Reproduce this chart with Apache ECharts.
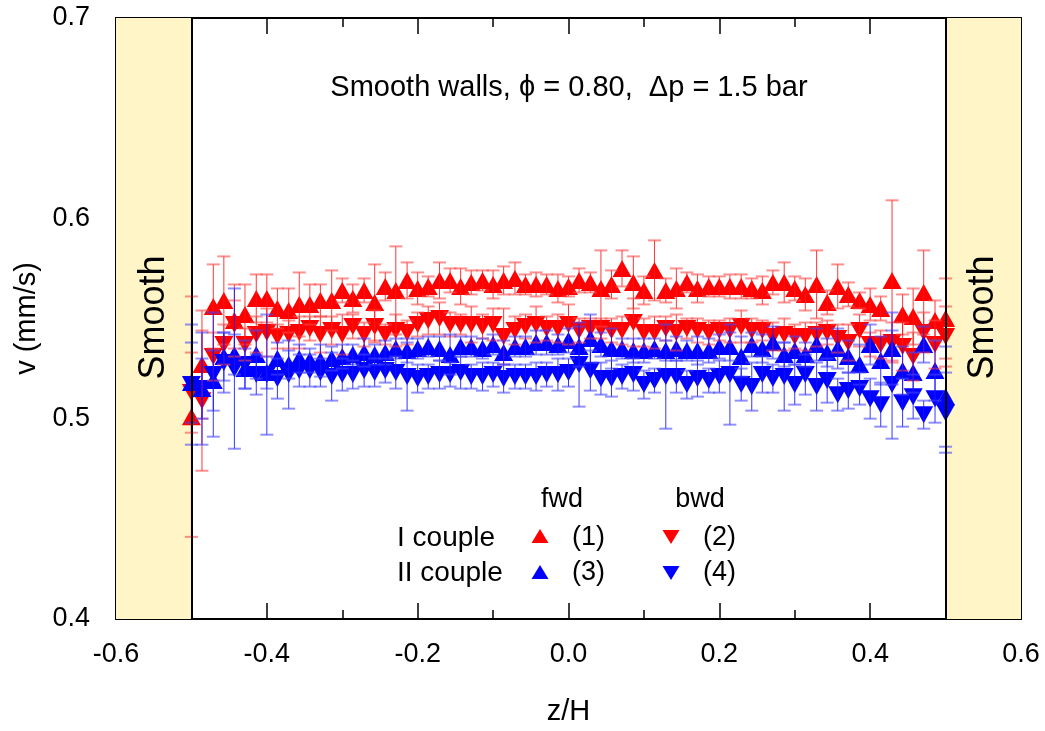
<!DOCTYPE html>
<html><head><meta charset="utf-8">
<script src="https://cdn.jsdelivr.net/npm/echarts@6/dist/echarts.min.js"></script>
<style>html,body{margin:0;padding:0;background:#fff}#c{width:1045px;height:731px}</style>
</head><body><div id="c"></div>
<script>
// z/H positions of the measurement points
const zH = [
 -0.500,-0.486,-0.471,-0.457,-0.443,-0.429,-0.414,-0.400,-0.386,-0.371,-0.357,
 -0.343,-0.329,-0.314,-0.300,-0.286,-0.271,-0.257,-0.243,-0.229,-0.214,-0.200,-0.186,-0.171,
 -0.157,-0.143,-0.129,-0.114,-0.100,-0.086,-0.071,-0.057,-0.043,-0.029,-0.014,0.000,
 0.014,0.029,0.043,0.057,0.071,0.086,0.100,0.114,0.129,0.143,0.157,0.171,
 0.186,0.200,0.214,0.229,0.243,0.257,0.271,0.286,0.300,0.314,0.329,0.343,
 0.357,0.371,0.386,0.400,0.414,0.429,0.443,0.457,0.471,0.486,0.500];

// (1) I couple fwd
const v1 = [
 0.501,0.527,0.556,0.559,0.549,0.552,0.560,0.560,0.555,0.554,0.557,
 0.557,0.559,0.559,0.564,0.560,0.564,0.558,0.566,0.564,0.569,0.565,0.566,0.569,
 0.569,0.566,0.568,0.569,0.567,0.569,0.570,0.567,0.567,0.567,0.565,0.566,
 0.569,0.568,0.565,0.567,0.575,0.568,0.564,0.574,0.564,0.565,0.568,0.565,
 0.566,0.566,0.566,0.566,0.565,0.564,0.568,0.568,0.565,0.562,0.567,0.558,
 0.566,0.562,0.559,0.557,0.555,0.569,0.552,0.551,0.563,0.549,0.550];
const e1 = [
 0.060,0.027,0.021,0.022,0.018,0.015,0.012,0.012,0.010,0.011,0.016,
 0.010,0.008,0.015,0.006,0.007,0.006,0.019,0.007,0.022,0.009,0.008,0.005,0.009,
 0.006,0.009,0.006,0.005,0.007,0.007,0.008,0.005,0.006,0.005,0.007,0.005,
 0.006,0.005,0.019,0.007,0.009,0.013,0.007,0.015,0.006,0.010,0.005,0.007,
 0.005,0.005,0.006,0.006,0.005,0.007,0.006,0.010,0.006,0.008,0.017,0.006,
 0.011,0.006,0.004,0.008,0.006,0.040,0.010,0.014,0.021,0.010,0.020];

// (2) I couple bwd
const v2 = [
 0.513,0.509,0.531,0.537,0.547,0.537,0.542,0.543,0.541,0.542,0.543,
 0.545,0.542,0.544,0.542,0.546,0.542,0.546,0.542,0.544,0.543,0.547,0.549,0.550,
 0.547,0.547,0.547,0.546,0.547,0.541,0.544,0.546,0.547,0.545,0.545,0.547,
 0.544,0.545,0.545,0.544,0.544,0.548,0.543,0.543,0.545,0.543,0.545,0.544,
 0.543,0.544,0.544,0.546,0.544,0.544,0.541,0.542,0.541,0.541,0.542,0.543,
 0.540,0.538,0.544,0.537,0.537,0.538,0.536,0.531,0.543,0.537,0.541];
const e2 = [
 0.020,0.035,0.012,0.010,0.012,0.008,0.009,0.012,0.006,0.007,0.008,
 0.006,0.009,0.007,0.010,0.006,0.006,0.008,0.005,0.008,0.006,0.006,0.007,0.008,
 0.006,0.005,0.009,0.006,0.008,0.014,0.007,0.006,0.009,0.006,0.007,0.010,
 0.006,0.005,0.005,0.006,0.007,0.012,0.007,0.008,0.006,0.009,0.005,0.006,
 0.006,0.005,0.006,0.008,0.006,0.005,0.007,0.008,0.006,0.007,0.006,0.006,
 0.007,0.009,0.008,0.006,0.007,0.010,0.012,0.012,0.010,0.012,0.015];

// (3) II couple fwd
const v3 = [
 0.518,0.515,0.519,0.531,0.532,0.525,0.532,0.523,0.530,0.527,0.530,
 0.529,0.529,0.530,0.531,0.532,0.533,0.532,0.533,0.535,0.534,0.535,0.536,0.535,
 0.532,0.536,0.536,0.535,0.537,0.533,0.536,0.536,0.538,0.538,0.537,0.539,
 0.536,0.540,0.537,0.535,0.535,0.534,0.534,0.535,0.534,0.535,0.534,0.534,
 0.534,0.536,0.536,0.531,0.537,0.535,0.538,0.532,0.534,0.532,0.537,0.533,
 0.535,0.531,0.527,0.537,0.529,0.535,0.524,0.523,0.537,0.524,0.511];
const e3 = [
 0.020,0.015,0.015,0.012,0.010,0.010,0.012,0.008,0.008,0.007,0.007,
 0.006,0.008,0.006,0.006,0.005,0.007,0.005,0.006,0.005,0.006,0.005,0.005,0.006,
 0.010,0.005,0.005,0.005,0.005,0.006,0.005,0.005,0.006,0.006,0.005,0.006,
 0.010,0.012,0.006,0.010,0.005,0.006,0.006,0.005,0.005,0.006,0.005,0.007,
 0.006,0.006,0.007,0.010,0.006,0.007,0.008,0.006,0.007,0.006,0.008,0.007,
 0.010,0.008,0.010,0.010,0.012,0.018,0.012,0.010,0.009,0.015,0.025];

// (4) II couple bwd
const v4 = [
 0.517,0.515,0.522,0.528,0.525,0.527,0.522,0.522,0.520,0.522,0.524,
 0.524,0.523,0.521,0.522,0.522,0.524,0.523,0.524,0.523,0.521,0.520,0.521,0.522,
 0.522,0.523,0.521,0.521,0.522,0.520,0.521,0.521,0.521,0.522,0.522,0.523,
 0.527,0.524,0.520,0.520,0.521,0.522,0.517,0.519,0.521,0.521,0.517,0.520,
 0.519,0.521,0.522,0.517,0.516,0.522,0.520,0.521,0.517,0.522,0.516,0.519,
 0.512,0.514,0.515,0.510,0.507,0.517,0.508,0.511,0.502,0.510,0.503];
const e4 = [
 0.030,0.028,0.031,0.015,0.040,0.012,0.010,0.030,0.010,0.017,0.008,
 0.008,0.007,0.012,0.008,0.007,0.008,0.007,0.006,0.008,0.017,0.007,0.006,0.007,
 0.006,0.008,0.006,0.007,0.006,0.007,0.006,0.006,0.007,0.006,0.008,0.007,
 0.021,0.010,0.008,0.009,0.006,0.008,0.007,0.006,0.026,0.008,0.007,0.009,
 0.006,0.008,0.025,0.008,0.012,0.009,0.007,0.017,0.010,0.010,0.012,0.011,
 0.008,0.009,0.008,0.010,0.011,0.027,0.012,0.011,0.007,0.012,0.020];

const wallBands = [[-0.6, -0.5], [0.5, 0.6]];
const wallLines = [-0.5, 0.5];
const title = 'Smooth walls, \u03D5 = 0.80,  \u0394p = 1.5 bar';
const FONT = 'Liberation Sans, Arial, sans-serif';

const RED = '#ff0000', BLUE = '#0000ff';

function errRender(stem, cap) {
  return function (params, api) {
    const x = api.value(0), y = api.value(1), e = api.value(2);
    const t = api.coord([x, y + e]);
    const b = api.coord([x, y - e]);
    const hw = 6.5;
    return {
      type: 'group',
      children: [
        {type: 'line', shape: {x1: t[0], y1: t[1], x2: b[0], y2: b[1]}, style: {stroke: stem, lineWidth: 1}},
        {type: 'line', shape: {x1: t[0] - hw, y1: t[1], x2: t[0] + hw, y2: t[1]}, style: {stroke: cap, lineWidth: 2}},
        {type: 'line', shape: {x1: b[0] - hw, y1: b[1], x2: b[0] + hw, y2: b[1]}, style: {stroke: cap, lineWidth: 2}}
      ]
    };
  };
}

function pts(v) { return zH.map((x, i) => [x, v[i]]); }
function errPts(v, e) { return zH.map((x, i) => [x, v[i], e[i]]); }

const chart = echarts.init(document.getElementById('c'), null, {renderer: 'canvas'});

const axisCommon = {
  axisLine: {show: true, onZero: false, lineStyle: {color: '#000', width: 2}},
  axisTick: {show: true, inside: true, length: 16, lineStyle: {color: '#000', width: 1.5}},
  minorTick: {show: true, splitNumber: 2, length: 9, lineStyle: {color: '#000', width: 1.5}},
  splitLine: {show: false}
};
const labelStyle = {color: '#000', fontSize: 27, fontFamily: FONT};

const fmt = v => (Math.abs(v) < 1e-9 ? 0 : v).toFixed(1);

chart.setOption({
  animation: false,
  backgroundColor: '#fff',
  grid: {left: 116, right: 24, top: 18, bottom: 106, containLabel: false},
  xAxis: [
    Object.assign({type: 'value', min: -0.6, max: 0.6, interval: 0.2, position: 'bottom',
      axisLabel: Object.assign({margin: 22, formatter: fmt}, labelStyle),
      name: 'z/H', nameLocation: 'middle', nameGap: 78,
      nameTextStyle: {color: '#000', fontSize: 29, fontFamily: FONT}}, axisCommon),
    Object.assign({type: 'value', min: -0.6, max: 0.6, interval: 0.2, position: 'top',
      axisLabel: {show: false}}, axisCommon)
  ],
  yAxis: [
    Object.assign({type: 'value', min: 0.4, max: 0.7, interval: 0.1, position: 'left',
      axisLabel: Object.assign({margin: 26, formatter: fmt}, labelStyle),
      name: 'v (mm/s)', nameLocation: 'middle', nameGap: 71,
      nameTextStyle: {color: '#000', fontSize: 29, fontFamily: FONT}}, axisCommon),
    Object.assign({type: 'value', min: 0.4, max: 0.7, interval: 0.1, position: 'right',
      axisLabel: {show: false}}, axisCommon)
  ],
  series: [
    {
      type: 'scatter', data: [], z: 1, silent: true,
      markArea: {silent: true, itemStyle: {color: '#fff5c6'},
        data: wallBands.map(b => [{xAxis: b[0]}, {xAxis: b[1]}])},
      markLine: {silent: true, symbol: 'none', label: {show: false},
        lineStyle: {color: '#000', width: 2, type: 'solid'},
        data: wallLines.map(x => ({xAxis: x}))}
    },
    {type: 'scatter', name: '(1)', data: pts(v1), symbol: 'triangle', symbolSize: [19, 17],
      itemStyle: {color: RED, opacity: 1}, z: 3},
    {type: 'scatter', name: '(2)', data: pts(v2), symbol: 'triangle', symbolRotate: 180, symbolSize: [19, 17],
      itemStyle: {color: RED, opacity: 1}, z: 3},
    {type: 'scatter', name: '(3)', data: pts(v3), symbol: 'triangle', symbolSize: [19, 17],
      itemStyle: {color: BLUE, opacity: 1}, z: 3},
    {type: 'scatter', name: '(4)', data: pts(v4), symbol: 'triangle', symbolRotate: 180, symbolSize: [19, 17],
      itemStyle: {color: BLUE, opacity: 1}, z: 3},
    {type: 'custom', data: errPts(v1, e1), renderItem: errRender('rgba(255,20,20,0.85)', 'rgba(255,70,70,0.6)'), z: 4, silent: true},
    {type: 'custom', data: errPts(v2, e2), renderItem: errRender('rgba(255,20,20,0.85)', 'rgba(255,70,70,0.6)'), z: 4, silent: true},
    {type: 'custom', data: errPts(v3, e3), renderItem: errRender('rgba(20,20,255,0.85)', 'rgba(70,70,255,0.6)'), z: 4, silent: true},
    {type: 'custom', data: errPts(v4, e4), renderItem: errRender('rgba(20,20,255,0.85)', 'rgba(70,70,255,0.6)'), z: 4, silent: true}
  ]
});

// annotations
const pl = chart.convertToPixel({gridIndex: 0}, [-0.55, 0.5505]);
const pr = chart.convertToPixel({gridIndex: 0}, [0.55, 0.5505]);
const tf = {fill: '#000', fontSize: 27, fontFamily: FONT};
function txt(x, y, s, align, extra) {
  return {type: 'text', x: x, y: y, z: 10,
    style: Object.assign({text: s, textAlign: align || 'left', textVerticalAlign: 'middle'}, tf, extra || {})};
}
function tri(cx, cy, up, color) {
  const w = 8.5, h = 7;
  const p = up ? [[cx - w, cy + h], [cx + w, cy + h], [cx, cy - h]]
               : [[cx - w, cy - h], [cx + w, cy - h], [cx, cy + h]];
  return {type: 'polygon', z: 10, shape: {points: p}, style: {fill: color}};
}
chart.setOption({
  graphic: [
    txt(569, 88, title, 'center', {fontSize: 29}),
    {type: 'text', x: pl[0], y: pl[1], rotation: Math.PI / 2, z: 10,
      style: {text: 'Smooth', textAlign: 'center', textVerticalAlign: 'middle', fill: '#000', fontSize: 36, fontFamily: FONT}},
    {type: 'text', x: pr[0], y: pr[1], rotation: Math.PI / 2, z: 10,
      style: {text: 'Smooth', textAlign: 'center', textVerticalAlign: 'middle', fill: '#000', fontSize: 36, fontFamily: FONT}},
    txt(562, 500, 'fwd', 'center'),
    txt(700, 500, 'bwd', 'center'),
    txt(397, 538, 'I couple', 'left', {fontSize: 28}),
    txt(397, 573, 'II couple', 'left', {fontSize: 28}),
    tri(540, 536, true, RED),
    tri(671, 537, false, RED),
    tri(540, 572, true, BLUE),
    tri(671, 573, false, BLUE),
    txt(572, 538, '(1)'),
    txt(703, 538, '(2)'),
    txt(572, 573, '(3)'),
    txt(703, 573, '(4)')
  ]
});
</script>
</body></html>
